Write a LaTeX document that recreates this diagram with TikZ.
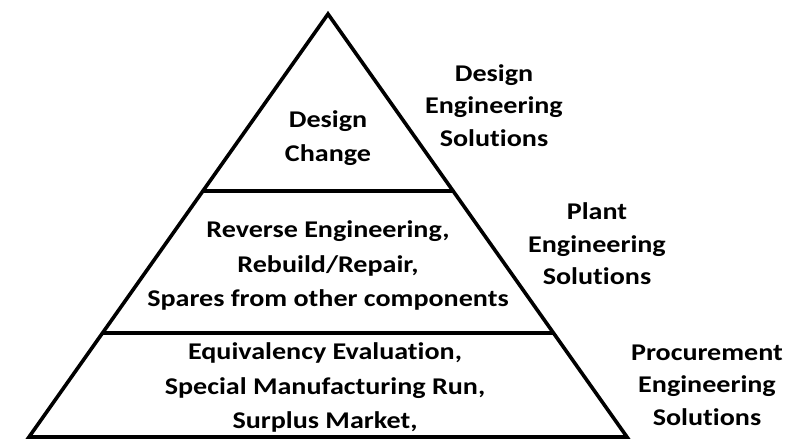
\documentclass[tikz,border=0pt]{standalone}
\usepackage{fontspec}
\setmainfont{Carlito}[FakeStretch=1.17, RawFeature=-liga]
\usetikzlibrary{calc}
\begin{document}
\begin{tikzpicture}[x=1pt,y=-1pt,
  edge/.style={line width=3.6pt, line join=miter},
  tier/.style={font=\fontsize{24}{34.5}\selectfont\bfseries, align=center, inner sep=0pt},
  side/.style={font=\fontsize{24}{32.5}\selectfont\bfseries, align=center, inner sep=0pt}]
\useasboundingbox (0,0) rectangle (785,442);
\coordinate (A) at (328,14);
\coordinate (L) at (29,437);
\coordinate (R) at (627,437);
\draw[edge] (A) -- (L) -- (R) -- cycle;
\coordinate (L1) at ($(A)!0.4184!(L)$);
\coordinate (R1) at ($(A)!0.4184!(R)$);
\coordinate (L2) at ($(A)!0.7541!(L)$);
\coordinate (R2) at ($(A)!0.7541!(R)$);
\draw[edge] (L1) -- (R1);
\draw[edge] (L2) -- (R2);
\node[tier] (top) at (328,138) {Design\\Change};
\node[tier] (mid) at (328,265.5) {Reverse Engineering,\\Rebuild/Repair,\\Spares from other components};
\node[tier] (bot) at (325,387.5) {Equivalency Evaluation,\\Special Manufacturing Run,\\Surplus Market,};
\node[side] (des) at (494,105.5) {Design\\Engineering\\Solutions};
\node[side] (pla) at (597,244) {Plant\\Engineering\\Solutions};
\node[side] (pro) at (707,385) {Procurement\\Engineering\\Solutions};
\end{tikzpicture}
\end{document}
